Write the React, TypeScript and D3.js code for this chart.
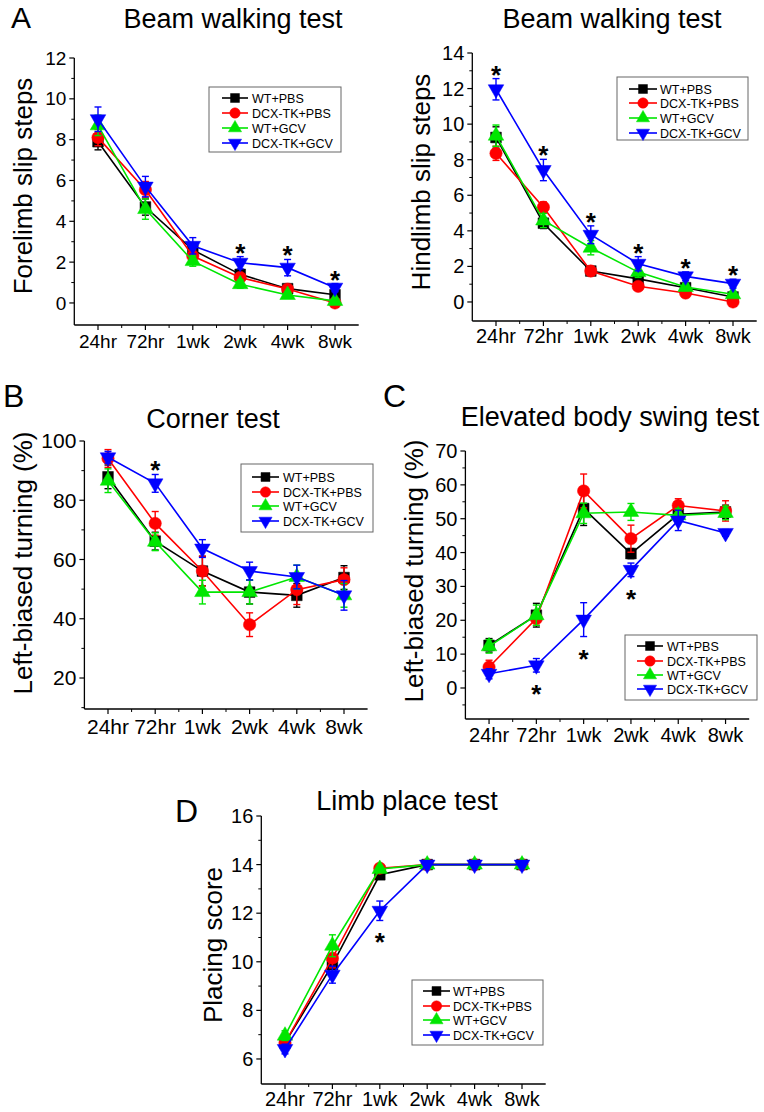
import React from 'react';
import * as d3 from 'd3';

const categories = ['24hr', '72hr', '1wk', '2wk', '4wk', '8wk'];
const seriesNames = ['WT+PBS', 'DCX-TK+PBS', 'WT+GCV', 'DCX-TK+GCV'];
const seriesColors = ['#000000', '#ff0000', '#00e600', '#0000ff'];
const seriesSymbols = ['square', 'circle', 'up', 'down'];

// A left: Forelimb slip steps
const foreWTPBS = [7.9, 4.7, 2.6, 1.4, 0.7, 0.4];
const foreTKPBS = [8.1, 5.55, 2.3, 1.25, 0.68, 0.0];
const foreWTGCV = [8.7, 4.6, 2.05, 0.92, 0.39, 0.1];
const foreTKGCV = [9.0, 5.7, 2.8, 1.97, 1.73, 0.75];
const foreErrWTPBS = [0.4, 0.4, 0.3, 0.2, 0.15, 0.15];
const foreErrTKPBS = [0.4, 0.4, 0.3, 0.2, 0.15, 0.1];
const foreErrWTGCV = [0.5, 0.5, 0.25, 0.2, 0.15, 0.1];
const foreErrTKGCV = [0.6, 0.5, 0.4, 0.3, 0.4, 0.2];
const foreStars = [3, 4, 5];

// A right: Hindlimb slip steps
const hindWTPBS = [9.25, 4.43, 1.74, 1.3, 0.8, 0.28];
const hindTKPBS = [8.36, 5.33, 1.74, 0.88, 0.5, 0.0];
const hindWTGCV = [9.35, 4.58, 3.05, 1.68, 0.84, 0.43];
const hindTKGCV = [11.96, 7.42, 3.78, 2.15, 1.44, 1.03];
const hindErrWTPBS = [0.6, 0.3, 0.2, 0.2, 0.15, 0.15];
const hindErrTKPBS = [0.4, 0.3, 0.2, 0.15, 0.15, 0.1];
const hindErrWTGCV = [0.6, 0.4, 0.4, 0.3, 0.2, 0.15];
const hindErrTKGCV = [0.6, 0.6, 0.5, 0.4, 0.25, 0.25];
const hindStars = [0, 1, 2, 3, 4, 5];

// B: Corner test
const cornerWTPBS = [87.9, 66.2, 56.1, 49.0, 47.9, 53.9];
const cornerTKPBS = [94.1, 72.2, 56.1, 38.0, 49.8, 53.2];
const cornerWTGCV = [86.6, 66.0, 49.0, 49.0, 54.1, 47.9];
const cornerTKGCV = [94.5, 85.7, 63.7, 56.1, 54.1, 47.9];
const cornerErrWTPBS = [4, 3, 5, 4, 4, 4];
const cornerErrTKPBS = [3, 4, 5, 4, 5, 4];
const cornerErrWTGCV = [4, 3, 4, 4, 4, 4];
const cornerErrTKGCV = [2, 3, 3, 3, 4, 5];
const cornerStars = [1];

// C: Elevated body swing test
const swingWTPBS = [12.6, 21.5, 53.0, 39.7, 51.3, 52.0];
const swingTKPBS = [6.2, 20.5, 58.2, 44.1, 53.9, 52.3];
const swingWTGCV = [12.3, 21.5, 51.6, 52.0, 51.0, 51.7];
const swingTKGCV = [4.2, 6.7, 20.2, 34.9, 49.5, 45.8];
const swingErrWTPBS = [2, 3.5, 5, 1.5, 2, 2];
const swingErrTKPBS = [2, 2, 5, 4, 2, 3];
const swingErrWTGCV = [2, 3, 3, 2.5, 2, 2];
const swingErrTKGCV = [1.5, 2, 5, 2, 3, 1];
const swingStars = [1, 2, 3];

// D: Limb place test
const limbWTPBS = [6.66, 9.88, 13.58, 14, 14, 14];
const limbTKPBS = [6.66, 10.15, 13.85, 14, 14, 14];
const limbWTGCV = [6.96, 10.66, 13.82, 14, 14, 14];
const limbTKGCV = [6.41, 9.47, 12.1, 14, 14, 14];
const limbErrWTPBS = [0.2, 0.3, 0.15, 0, 0, 0];
const limbErrTKPBS = [0.2, 0.4, 0.1, 0, 0, 0];
const limbErrWTGCV = [0.2, 0.45, 0.1, 0, 0, 0];
const limbErrTKGCV = [0.2, 0.35, 0.4, 0, 0, 0];
const limbStars = [2];

const FONT = '"Liberation Sans", Arial, Helvetica, sans-serif';

type PanelCfg = {
  values: number[][];
  errors: number[][];
  stars: number[];
  starDir: 'above' | 'below';
  x0: number; x1: number; yTop: number; yBottom: number;
  yDomain: [number, number];
  yTicks: number[];
  yMinor: number[];
  tickFont: number;
  xLabelDy: number;
  title: string; titleX: number; titleY: number;
  letter: string; letterX: number; letterY: number; letterSize: number;
  yLabel: string; yLabelX: number; yLabelY: number;
  legend: { x: number; y: number; w: number; h: number; rows: number[]; lx0: number; lx1: number; tx: number };
};

function symbolPath(kind: string, size: number) {
  const t = kind === 'square' ? d3.symbolSquare : kind === 'circle' ? d3.symbolCircle : d3.symbolTriangle;
  return d3.symbol().type(t).size(size)() as string;
}

function Marker({ kind, x, y, color, size }: { kind: string; x: number; y: number; color: string; size: number }) {
  const rot = kind === 'down' ? ' rotate(180)' : '';
  return <path d={symbolPath(kind, size)} transform={`translate(${x},${y})${rot}`} fill={color} stroke={color} strokeWidth={0.5} />;
}

function Panel({ cfg }: { cfg: PanelCfg }) {
  const x = d3.scaleLinear().domain([-0.5, categories.length - 0.5]).range([cfg.x0, cfg.x1]);
  const y = d3.scaleLinear().domain(cfg.yDomain).range([cfg.yBottom, cfg.yTop]);
  const line = d3.line<number>().x((_, i) => x(i)).y((v) => y(v));
  const xMinor = d3.range(0, categories.length - 1).map((i) => i + 0.5);
  const blue = cfg.values[3];
  const blueErr = cfg.errors[3];
  const symSize = [115, 120, 105, 105];
  return (
    <g>
      <text x={cfg.letterX} y={cfg.letterY} fontSize={cfg.letterSize} fontFamily={FONT}>{cfg.letter}</text>
      <text x={cfg.titleX} y={cfg.titleY} fontSize={27} fontFamily={FONT} textAnchor="middle">{cfg.title}</text>
      <text transform={`translate(${cfg.yLabelX},${cfg.yLabelY}) rotate(-90)`} fontSize={26} fontFamily={FONT} textAnchor="middle">{cfg.yLabel}</text>
      {/* axes */}
      <line x1={cfg.x0} x2={cfg.x0} y1={cfg.yTop} y2={cfg.yBottom} stroke="#000" strokeWidth={1.3} />
      <line x1={cfg.x0} x2={cfg.x1} y1={cfg.yBottom} y2={cfg.yBottom} stroke="#000" strokeWidth={1.3} />
      {cfg.yTicks.map((t) => (
        <g key={'yt' + t}>
          <line x1={cfg.x0 - 5} x2={cfg.x0} y1={y(t)} y2={y(t)} stroke="#000" strokeWidth={1.2} />
          <text x={cfg.x0 - 8} y={y(t)} dy="0.35em" fontSize={cfg.tickFont} fontFamily={FONT} textAnchor="end">{t}</text>
        </g>
      ))}
      {cfg.yMinor.map((t) => (
        <line key={'ym' + t} x1={cfg.x0 - 3} x2={cfg.x0} y1={y(t)} y2={y(t)} stroke="#000" strokeWidth={1} />
      ))}
      {categories.map((c, i) => (
        <g key={'xt' + c}>
          <line x1={x(i)} x2={x(i)} y1={cfg.yBottom} y2={cfg.yBottom + 5} stroke="#000" strokeWidth={1.2} />
          <text x={x(i)} y={cfg.yBottom + cfg.xLabelDy} fontSize={cfg.tickFont} fontFamily={FONT} textAnchor="middle">{c}</text>
        </g>
      ))}
      {xMinor.map((t) => (
        <line key={'xm' + t} x1={x(t)} x2={x(t)} y1={cfg.yBottom} y2={cfg.yBottom + 3} stroke="#000" strokeWidth={1} />
      ))}
      {/* series */}
      {cfg.values.map((vals, s) => (
        <g key={'s' + s}>
          <path d={line(vals) as string} fill="none" stroke={seriesColors[s]} strokeWidth={1.6} />
          {vals.map((v, i) => {
            const e = cfg.errors[s][i];
            if (!e) return null;
            return (
              <g key={'e' + i} stroke={seriesColors[s]} strokeWidth={1.4}>
                <line x1={x(i)} x2={x(i)} y1={y(v - e)} y2={y(v + e)} />
                <line x1={x(i) - 3.5} x2={x(i) + 3.5} y1={y(v + e)} y2={y(v + e)} />
                <line x1={x(i) - 3.5} x2={x(i) + 3.5} y1={y(v - e)} y2={y(v - e)} />
              </g>
            );
          })}
          {vals.map((v, i) => (
            <Marker key={'m' + i} kind={seriesSymbols[s]} x={x(i)} y={y(v)} color={seriesColors[s]} size={symSize[s]} />
          ))}
        </g>
      ))}
      {/* significance */}
      {cfg.stars.map((i) => {
        const cy = cfg.starDir === 'above'
          ? y(blue[i] + blueErr[i]) - 10
          : y(blue[i] - blueErr[i]) + 16;
        return (
          <text key={'st' + i} x={x(i)} y={cy + 15} fontSize={26} fontWeight="bold" fontFamily={FONT} textAnchor="middle">*</text>
        );
      })}
      {/* legend */}
      <rect x={cfg.legend.x} y={cfg.legend.y} width={cfg.legend.w} height={cfg.legend.h} fill="#fff" stroke="#666" strokeWidth={1} />
      {seriesNames.map((n, s) => {
        const ry = cfg.legend.rows[s];
        const cx = (cfg.legend.lx0 + cfg.legend.lx1) / 2;
        return (
          <g key={'lg' + s}>
            <line x1={cfg.legend.lx0} x2={cfg.legend.lx1} y1={ry} y2={ry} stroke={seriesColors[s]} strokeWidth={1.6} />
            <Marker kind={seriesSymbols[s]} x={cx} y={ry} color={seriesColors[s]} size={[80, 85, 75, 75][s]} />
            <text x={cfg.legend.tx} y={ry} dy="0.36em" fontSize={12.5} fontFamily={FONT}>{n}</text>
          </g>
        );
      })}
    </g>
  );
}

const panels: PanelCfg[] = [
  {
    values: [foreWTPBS, foreTKPBS, foreWTGCV, foreTKGCV],
    errors: [foreErrWTPBS, foreErrTKPBS, foreErrWTGCV, foreErrTKGCV],
    stars: foreStars, starDir: 'above',
    x0: 74.3, x1: 358.7, yTop: 58, yBottom: 325, yDomain: [-1.08, 12],
    yTicks: [0, 2, 4, 6, 8, 10, 12], yMinor: [1, 3, 5, 7, 9, 11],
    tickFont: 19, xLabelDy: 23,
    title: 'Beam walking test', titleX: 233, titleY: 28,
    letter: 'A', letterX: 11, letterY: 28, letterSize: 30,
    yLabel: 'Forelimb slip steps', yLabelX: 32, yLabelY: 186,
    legend: { x: 209, y: 87, w: 132, h: 65, rows: [98, 113, 128, 143], lx0: 222, lx1: 248, tx: 252 },
  },
  {
    values: [hindWTPBS, hindTKPBS, hindWTGCV, hindTKGCV],
    errors: [hindErrWTPBS, hindErrTKPBS, hindErrWTGCV, hindErrTKGCV],
    stars: hindStars, starDir: 'above',
    x0: 472.3, x1: 756.7, yTop: 53, yBottom: 321, yDomain: [-1.07, 14],
    yTicks: [0, 2, 4, 6, 8, 10, 12, 14], yMinor: [1, 3, 5, 7, 9, 11, 13],
    tickFont: 20, xLabelDy: 22,
    title: 'Beam walking test', titleX: 612, titleY: 28,
    letter: '', letterX: 0, letterY: 0, letterSize: 30,
    yLabel: 'Hindlimb slip steps', yLabelX: 430, yLabelY: 182,
    legend: { x: 617, y: 77, w: 131, h: 63, rows: [89, 103, 118, 133], lx0: 629, lx1: 657, tx: 660 },
  },
  {
    values: [cornerWTPBS, cornerTKPBS, cornerWTGCV, cornerTKGCV],
    errors: [cornerErrWTPBS, cornerErrTKPBS, cornerErrWTGCV, cornerErrTKGCV],
    stars: cornerStars, starDir: 'above',
    x0: 84.4, x1: 367.6, yTop: 441, yBottom: 709, yDomain: [9.54, 100],
    yTicks: [20, 40, 60, 80, 100], yMinor: [10, 30, 50, 70, 90],
    tickFont: 21, xLabelDy: 25,
    title: 'Corner test', titleX: 213, titleY: 428,
    letter: 'B', letterX: 3, letterY: 407, letterSize: 32,
    yLabel: 'Left-biased turning (%)', yLabelX: 32, yLabelY: 563,
    legend: { x: 241, y: 464, w: 132, h: 68, rows: [477, 492, 506, 521], lx0: 252, lx1: 279, tx: 283 },
  },
  {
    values: [swingWTPBS, swingTKPBS, swingWTGCV, swingTKGCV],
    errors: [swingErrWTPBS, swingErrTKPBS, swingErrWTGCV, swingErrTKGCV],
    stars: swingStars, starDir: 'below',
    x0: 465.4, x1: 749.2, yTop: 451, yBottom: 719, yDomain: [-9.16, 70],
    yTicks: [0, 10, 20, 30, 40, 50, 60, 70], yMinor: [-5, 5, 15, 25, 35, 45, 55, 65],
    tickFont: 20, xLabelDy: 23,
    title: 'Elevated body swing test', titleX: 610, titleY: 426,
    letter: 'C', letterX: 383, letterY: 407, letterSize: 32,
    yLabel: 'Left-biased turning (%)', yLabelX: 423, yLabelY: 571,
    legend: { x: 625, y: 635, w: 132, h: 65, rows: [646, 661, 675, 689], lx0: 637, lx1: 663, tx: 667 },
  },
  {
    values: [limbWTPBS, limbTKPBS, limbWTGCV, limbTKGCV],
    errors: [limbErrWTPBS, limbErrTKPBS, limbErrWTGCV, limbErrTKGCV],
    stars: limbStars, starDir: 'below',
    x0: 261.3, x1: 545.7, yTop: 816, yBottom: 1084, yDomain: [4.97, 16],
    yTicks: [6, 8, 10, 12, 14, 16], yMinor: [7, 9, 11, 13, 15],
    tickFont: 20, xLabelDy: 22,
    title: 'Limb place test', titleX: 407, titleY: 810,
    letter: 'D', letterX: 175, letterY: 822, letterSize: 32,
    yLabel: 'Placing score', yLabelX: 222, yLabelY: 945,
    legend: { x: 412, y: 980, w: 131, h: 65, rows: [991, 1006, 1020, 1035], lx0: 423, lx1: 450, tx: 453 },
  },
];

export default function App() {
  return (
    <svg width={764} height={1112} style={{ position: 'absolute', left: 0, top: 0, background: '#fff' }}>
      <rect x={0} y={0} width={764} height={1112} fill="#fff" />
      {panels.map((p, i) => (
        <Panel key={i} cfg={p} />
      ))}
    </svg>
  );
}
